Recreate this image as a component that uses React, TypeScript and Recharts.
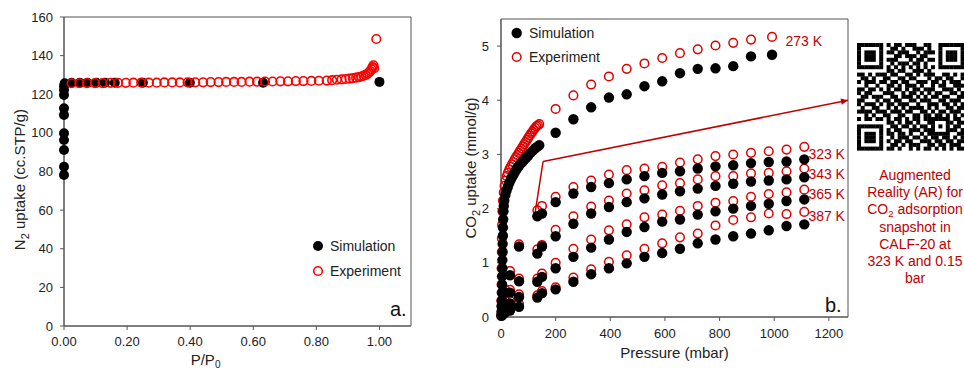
import React from 'react';
import { ScatterChart, Scatter, XAxis, YAxis, ReferenceLine, ReferenceDot, ReferenceArea } from 'recharts';

const FONT = '"Liberation Sans", Arial, Helvetica, sans-serif';
const TXT = '#222';
const AX = '#555';
const RED_A = '#ff0000';
const RED_B = '#e00000';
const RED_T = '#c00000';

// ---------- Panel a: N2 isotherm ----------
const REL_P_TICKS = [0, 0.2, 0.4, 0.6, 0.8, 1.0];
const N2_TICKS = [0, 20, 40, 60, 80, 100, 120, 140, 160];
const SIM_N2_P = [0, 0, 0, 0, 0, 0, 0, 0, 0, 0, 0.002, 0.024, 0.05, 0.074, 0.103, 0.13, 0.161, 0.25, 0.399, 0.631, 1.0];
const SIM_N2_Q = [78.2, 82.5, 91.1, 96.3, 99.8, 109.3, 112.7, 119.6, 122.2, 124.3, 125.7, 126, 126, 126, 126, 126, 126, 126, 126, 126, 126.4];
const EXP_N2_P = [0.024, 0.049, 0.073, 0.098, 0.122, 0.147, 0.171, 0.196, 0.22, 0.245, 0.269, 0.294, 0.318, 0.343, 0.367, 0.392, 0.416, 0.441, 0.465, 0.49, 0.514, 0.539, 0.563, 0.588, 0.612, 0.637, 0.661, 0.686, 0.71, 0.735, 0.759, 0.784, 0.808, 0.833, 0.85, 0.865, 0.88, 0.893, 0.905, 0.916, 0.926, 0.935, 0.943, 0.95, 0.956, 0.962, 0.967, 0.971, 0.975, 0.978, 0.981, 0.983, 0.99];
const EXP_N2_Q = [125.7, 125.7, 125.8, 125.8, 125.8, 125.9, 125.9, 125.9, 126, 126, 126, 126, 126.1, 126.1, 126.1, 126.2, 126.2, 126.2, 126.3, 126.3, 126.4, 126.4, 126.4, 126.5, 126.5, 126.6, 126.6, 126.7, 126.7, 126.8, 126.8, 126.9, 127, 127.1, 127.3, 127.5, 127.7, 127.9, 128.1, 128.3, 128.6, 128.9, 129.2, 129.6, 130, 130.6, 131.3, 132, 133, 134, 135, 133.5, 148.6];

// ---------- Panel b: CO2 isotherms ----------
const PRESSURE_TICKS = [0, 200, 400, 600, 800, 1000, 1200];
const CO2_TICKS = [0, 1, 2, 3, 4, 5];
const P_273 = [200, 265, 330, 395, 460, 525, 590, 655, 720, 785, 850, 915, 992];
const P_HI = [200, 265, 330, 395, 460, 525, 590, 655, 720, 785, 850, 915, 980, 1045, 1110];
const P_LOW = [5, 15, 33, 66, 133, 150];

const SIM_273_HI = [3.40, 3.65, 3.87, 4.05, 4.11, 4.26, 4.35, 4.50, 4.58, 4.59, 4.63, 4.81, 4.84];
const EXP_273_HI = [3.84, 4.09, 4.29, 4.44, 4.58, 4.68, 4.78, 4.87, 4.94, 5.01, 5.06, 5.12, 5.17];
const SIM_273_LOW_P = [1, 2, 2, 3, 3, 4, 4, 5, 5, 6, 6, 7, 7, 8, 9, 10, 12, 16, 20, 25, 30, 35, 40, 45, 50, 55, 60, 66, 72, 78, 85, 92, 100, 108, 116, 124, 132, 140];
const SIM_273_LOW_Q = [0.02, 0.1, 0.2, 0.3, 0.45, 0.6, 0.75, 0.9, 1.05, 1.2, 1.35, 1.5, 1.65, 1.8, 1.95, 2.05, 2.15, 2.25, 2.33, 2.4, 2.47, 2.53, 2.58, 2.62, 2.67, 2.71, 2.75, 2.79, 2.83, 2.86, 2.9, 2.94, 2.98, 3.03, 3.07, 3.11, 3.14, 3.17];
const EXP_273_LOW_P = [1, 1, 2, 2, 3, 3, 4, 5, 7, 10, 13, 17, 21, 25, 30, 35, 40, 45, 50, 55, 60, 65, 70, 75, 80, 85, 90, 95, 100, 105, 110, 115, 120, 125, 130, 135, 140];
const EXP_273_LOW_Q = [0.05, 0.3, 0.6, 0.9, 1.2, 1.45, 1.7, 1.95, 2.15, 2.3, 2.42, 2.52, 2.6, 2.66, 2.72, 2.77, 2.82, 2.86, 2.91, 2.95, 2.99, 3.03, 3.07, 3.11, 3.15, 3.19, 3.23, 3.27, 3.31, 3.35, 3.39, 3.42, 3.46, 3.49, 3.52, 3.54, 3.56];

const SIM_323_LOW = [0.15, 0.45, 0.77, 1.30, 1.86, 1.91];
const EXP_323_LOW = [0.2, 0.5, 0.85, 1.34, 1.97, 2.05];
const SIM_323_HI = [2.12, 2.28, 2.40, 2.47, 2.54, 2.60, 2.66, 2.69, 2.74, 2.78, 2.80, 2.84, 2.86, 2.87, 2.91];
const EXP_323_HI = [2.22, 2.40, 2.52, 2.63, 2.71, 2.74, 2.77, 2.85, 2.91, 2.97, 3.00, 3.03, 3.06, 3.09, 3.14];

const SIM_343_LOW = [0.08, 0.25, 0.45, 0.66, 1.17, 1.30];
const EXP_343_LOW = [0.1, 0.3, 0.5, 0.71, 1.25, 1.33];
const SIM_343_HI = [1.49, 1.72, 1.91, 2.03, 2.12, 2.19, 2.26, 2.32, 2.37, 2.42, 2.46, 2.50, 2.52, 2.54, 2.58];
const EXP_343_HI = [1.61, 1.86, 2.04, 2.15, 2.28, 2.34, 2.43, 2.47, 2.54, 2.60, 2.60, 2.65, 2.66, 2.69, 2.74];

const SIM_365_LOW = [0.05, 0.15, 0.25, 0.37, 0.65, 0.74];
const EXP_365_LOW = [0.06, 0.18, 0.3, 0.42, 0.71, 0.80];
const SIM_365_HI = [0.90, 1.11, 1.28, 1.43, 1.57, 1.66, 1.76, 1.80, 1.89, 1.95, 2.00, 2.05, 2.09, 2.14, 2.17];
const EXP_365_HI = [1.00, 1.26, 1.43, 1.60, 1.71, 1.84, 1.89, 1.96, 2.05, 2.11, 2.14, 2.22, 2.27, 2.30, 2.35];

const SIM_387_LOW = [0.03, 0.08, 0.12, 0.19, 0.36, 0.44];
const EXP_387_LOW = [0.04, 0.1, 0.15, 0.24, 0.40, 0.48];
const SIM_387_HI = [0.51, 0.65, 0.79, 0.90, 0.99, 1.11, 1.18, 1.26, 1.36, 1.43, 1.49, 1.54, 1.60, 1.68, 1.71];
const EXP_387_HI = [0.55, 0.73, 0.88, 1.02, 1.14, 1.26, 1.36, 1.47, 1.54, 1.69, 1.79, 1.84, 1.91, 1.90, 1.94];

const TEMP_LABELS = ['273 K', '323 K', '343 K', '365 K', '387 K'];
const TEMP_LABEL_P = [1041, 1125, 1125, 1125, 1125];
const TEMP_LABEL_Q = [5.09, 3.01, 2.63, 2.27, 1.86];

const CALLOUT_P = [125, 154, 1270];
const CALLOUT_Q = [1.93, 2.87, 4.0];

const AR_CAPTION = ['Augmented', 'Reality (AR) for', 'CO2 adsorption', 'snapshot in', 'CALF-20 at', '323 K and 0.15', 'bar'];

const QR_ROWS = [
  '1111111' + '0' + '1011011100110' + '0' + '1111111',
  '1000001' + '0' + '0110100111010' + '0' + '1000001',
  '1011101' + '0' + '1101110010111' + '0' + '1011101',
  '1011101' + '0' + '0011011101100' + '0' + '1011101',
  '1011101' + '0' + '1110001011011' + '0' + '1011101',
  '1000001' + '0' + '0101110110100' + '0' + '1000001',
  '1111111' + '0' + '1010101010101' + '0' + '1111111',
  '00000000' + '1101100111010' + '00000000',
  '11010111011001101011100110101',
  '01101001100110110001011011001',
  '10111011011011001110110101110',
  '00100100110101110100101100111',
  '11011010101101011011100111010',
  '10110001110010110101011001101',
  '01101110011011101010110110011',
  '11000101101100110111001101110',
  '10111010110111001001110110101',
  '01001100101010111101010011011',
  '11110111011101100110101101110',
  '00101001100110011011011010101',
  '10110110101101011011' + '11111' + '0110',
  '00000000' + '110101101001' + '10001' + '1011',
  '1111111' + '0' + '011011010110' + '10101' + '0110',
  '1000001' + '0' + '101100111011' + '10001' + '1101',
  '1011101' + '0' + '110110100101' + '11111' + '0011',
  '1011101' + '0' + '010111011010110110101',
  '1011101' + '0' + '101101100111011011011',
  '1000001' + '0' + '011010111001101101110',
  '1111111' + '0' + '110100101011010101011',
];

const zip = (xs: number[], ys: number[]) => xs.map((x, i) => ({ x, y: ys[i] }));

const simA = zip(SIM_N2_P, SIM_N2_Q);
const expA = zip(EXP_N2_P, EXP_N2_Q);

const simB = [
  ...zip(SIM_273_LOW_P, SIM_273_LOW_Q), ...zip(P_273, SIM_273_HI),
  ...zip(P_LOW, SIM_323_LOW), ...zip(P_HI, SIM_323_HI),
  ...zip(P_LOW, SIM_343_LOW), ...zip(P_HI, SIM_343_HI),
  ...zip(P_LOW, SIM_365_LOW), ...zip(P_HI, SIM_365_HI),
  ...zip(P_LOW, SIM_387_LOW), ...zip(P_HI, SIM_387_HI),
];
const expB = [
  ...zip(EXP_273_LOW_P, EXP_273_LOW_Q), ...zip(P_273, EXP_273_HI),
  ...zip(P_LOW, EXP_323_LOW), ...zip(P_HI, EXP_323_HI),
  ...zip(P_LOW, EXP_343_LOW), ...zip(P_HI, EXP_343_HI),
  ...zip(P_LOW, EXP_365_LOW), ...zip(P_HI, EXP_365_HI),
  ...zip(P_LOW, EXP_387_LOW), ...zip(P_HI, EXP_387_HI),
];

const dot = (r: number) => (p: any) => <circle cx={p.cx} cy={p.cy} r={r} fill="#000" />;
const ring = (r: number, color: string, w: number) => (p: any) => (
  <circle cx={p.cx} cy={p.cy} r={r} fill="none" stroke={color} strokeWidth={w} />
);

const tickStyle = { fontSize: 13, fill: TXT, fontFamily: FONT };

function ChartA() {
  return (
    <ScatterChart width={420} height={369} margin={{ top: 17, right: 9, left: 0, bottom: 0 }}>
      <XAxis
        type="number" dataKey="x" domain={[0, 1.1]} ticks={REL_P_TICKS}
        tickFormatter={(v: number) => v.toFixed(2)} height={43} tickSize={4} tickMargin={7}
        tick={tickStyle} axisLine={{ stroke: AX }} tickLine={{ stroke: AX }}
        label={{
          content: (p: any) => {
            const vb = p.viewBox || { x: 64, y: 326, width: 347 };
            return (
              <text x={vb.x + vb.width * 0.408} y={vb.y + 39} textAnchor="middle" fontSize={15} fill={TXT} fontFamily={FONT}>
                P/P<tspan dy={3} fontSize={10}>0</tspan>
              </text>
            );
          },
        }}
      />
      <YAxis
        type="number" dataKey="y" domain={[0, 160]} ticks={N2_TICKS} width={64} tickSize={4} tickMargin={7}
        tick={tickStyle} axisLine={{ stroke: AX }} tickLine={{ stroke: AX }}
        label={{
          content: (p: any) => {
            const vb = p.viewBox || { x: 0, y: 17, height: 309 };
            const cx = 25;
            const cy = vb.y + vb.height * 0.526;
            return (
              <text x={cx} y={cy} transform={`rotate(-90 ${cx} ${cy})`} textAnchor="middle" fontSize={15} fill={TXT} fontFamily={FONT}>
                N<tspan dy={4} fontSize={11}>2</tspan><tspan dy={-4}> uptake (cc.STP/g)</tspan>
              </text>
            );
          },
        }}
      />
      <ReferenceArea x1={0} x2={1.1} y1={0} y2={160} fill="none" stroke={AX} strokeWidth={1} />
      <Scatter data={simA} shape={dot(5)} isAnimationActive={false} />
      <Scatter data={expA} shape={ring(4.3, RED_A, 1.6)} isAnimationActive={false} />
    </ScatterChart>
  );
}

function ChartB() {
  return (
    <ScatterChart width={440} height={369} margin={{ top: 19, right: 12, left: 0, bottom: 0 }}>
      <XAxis
        type="number" dataKey="x" domain={[0, 1270]} ticks={PRESSURE_TICKS} height={52} tickSize={4} tickMargin={8}
        tick={tickStyle} axisLine={{ stroke: AX }} tickLine={{ stroke: AX }}
        label={{
          content: (p: any) => {
            const vb = p.viewBox || { x: 81, y: 317, width: 347 };
            return (
              <text x={vb.x + vb.width / 2} y={vb.y + 41} textAnchor="middle" fontSize={15} fill={TXT} fontFamily={FONT}>
                Pressure (mbar)
              </text>
            );
          },
        }}
      />
      <YAxis
        type="number" dataKey="y" domain={[0, 5.5]} ticks={CO2_TICKS} width={81} tickSize={4} tickMargin={8}
        tick={tickStyle} axisLine={{ stroke: AX }} tickLine={{ stroke: AX }}
        label={{
          content: (p: any) => {
            const vb = p.viewBox || { x: 0, y: 19, height: 298 };
            const cx = 56;
            const cy = vb.y + vb.height / 2;
            return (
              <text x={cx} y={cy} transform={`rotate(-90 ${cx} ${cy})`} textAnchor="middle" fontSize={15} fill={TXT} fontFamily={FONT}>
                CO<tspan dy={4} fontSize={11}>2</tspan><tspan dy={-4}> uptake (mmol/g)</tspan>
              </text>
            );
          },
        }}
      />
      <ReferenceArea x1={0} x2={1270} y1={0} y2={5.5} fill="none" stroke={AX} strokeWidth={1} />
      <Scatter data={expB} shape={ring(4.3, RED_B, 1.5)} isAnimationActive={false} />
      <Scatter data={simB} shape={dot(5.2)} isAnimationActive={false} />
      <ReferenceLine
        segment={[{ x: CALLOUT_P[0], y: CALLOUT_Q[0] }, { x: CALLOUT_P[1], y: CALLOUT_Q[1] }]}
        stroke={RED_T} strokeWidth={1.5} ifOverflow="visible"
      />
      <ReferenceLine
        segment={[{ x: CALLOUT_P[1], y: CALLOUT_Q[1] }, { x: CALLOUT_P[2], y: CALLOUT_Q[2] }]}
        stroke={RED_T} strokeWidth={1.5} ifOverflow="visible"
      />
      <ReferenceDot
        x={CALLOUT_P[2]} y={CALLOUT_Q[2]} r={0} ifOverflow="visible"
        shape={(p: any) => (
          <path d="M0,0 L-7,-3.2 L-7,3.2 Z" fill={RED_T} transform={`translate(${p.cx},${p.cy}) rotate(-11.3)`} />
        )}
      />
      {TEMP_LABELS.map((t, i) => (
        <ReferenceDot
          key={t} x={TEMP_LABEL_P[i]} y={TEMP_LABEL_Q[i]} r={0} ifOverflow="visible"
          shape={(p: any) => (
            <text x={p.cx} y={p.cy} dy="0.35em" fontSize={14} fill={RED_T} fontFamily={FONT}>{t}</text>
          )}
        />
      ))}
    </ScatterChart>
  );
}

function Overlay() {
  const qrX = 857;
  const qrY = 43;
  const m = 3.7;
  const rects: React.ReactElement[] = [];
  QR_ROWS.forEach((row, r) => {
    for (let c = 0; c < row.length; c++) {
      if (row[c] === '1') {
        rects.push(<rect key={`${r}-${c}`} x={qrX + c * m} y={qrY + r * m} width={m + 0.3} height={m + 0.3} fill="#000" />);
      }
    }
  });
  const capY = [175, 192.5, 209.5, 227, 244, 261, 278];
  return (
    <svg width={964} height={369} style={{ position: 'absolute', left: 0, top: 0, pointerEvents: 'none' }} fontFamily={FONT}>
      {/* legend a */}
      <circle cx={318} cy={246} r={5} fill="#000" />
      <text x={330} y={246} dy="0.35em" fontSize={14} fill={TXT}>Simulation</text>
      <circle cx={318} cy={271} r={4.3} fill="none" stroke={RED_A} strokeWidth={1.6} />
      <text x={330} y={271} dy="0.35em" fontSize={14} fill={TXT}>Experiment</text>
      <text x={390} y={316} fontSize={20} fill="#111">a.</text>
      {/* legend b */}
      <circle cx={516.7} cy={33} r={5.2} fill="#000" />
      <text x={529} y={33} dy="0.35em" fontSize={14} fill={TXT}>Simulation</text>
      <circle cx={516.7} cy={57} r={4.3} fill="none" stroke={RED_B} strokeWidth={1.5} />
      <text x={529} y={57} dy="0.35em" fontSize={14} fill={TXT}>Experiment</text>
      <text x={825} y={312} fontSize={20} fill="#111">b.</text>
      {/* QR */}
      {rects}
      {AR_CAPTION.map((line, i) =>
        line.startsWith('CO2') ? (
          <text key={i} x={915} y={capY[i]} dy="0.35em" textAnchor="middle" fontSize={14} fill={RED_T}>
            CO<tspan dy={2.5} fontSize={9.5}>2</tspan><tspan dy={-2.5}>{line.slice(3)}</tspan>
          </text>
        ) : (
          <text key={i} x={915} y={capY[i]} dy="0.35em" textAnchor="middle" fontSize={14} fill={RED_T}>{line}</text>
        )
      )}
    </svg>
  );
}

export default function App() {
  return (
    <div style={{ position: 'absolute', left: 0, top: 0, width: 964, height: 369, background: '#fff', fontFamily: FONT, overflow: 'hidden' }}>
      <div style={{ position: 'absolute', left: 0, top: 0 }}><ChartA /></div>
      <div style={{ position: 'absolute', left: 420, top: 0 }}><ChartB /></div>
      <Overlay />
    </div>
  );
}
